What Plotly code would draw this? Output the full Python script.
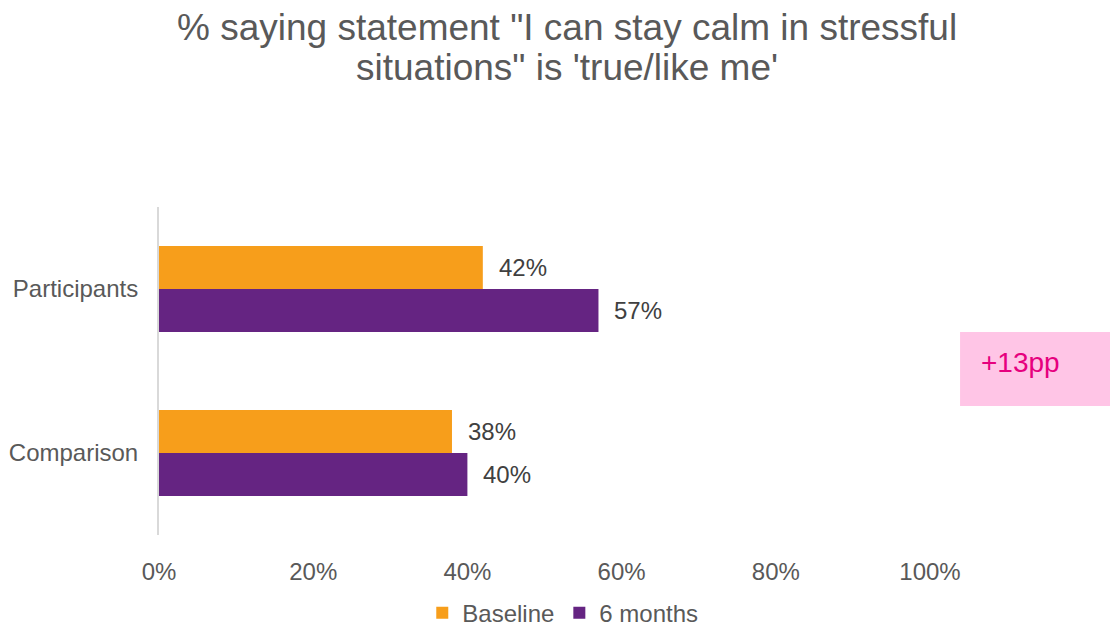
import plotly.graph_objects as go

# Survey result: share agreeing with the statement, by group and wave
groups = ["Participants", "Comparison"]
baseline = [0.42, 0.38]
six_months = [0.57, 0.40]
series_names = ["Baseline", "6 months"]
tick_vals = [0, 0.2, 0.4, 0.6, 0.8, 1.0]
tick_text = ["0%", "20%", "40%", "60%", "80%", "100%"]
title_lines = ["% saying statement \"I can stay calm in stressful",
               "situations\" is 'true/like me'"]
change_label = "+13pp"

ORANGE = "#F79E1B"
PURPLE = "#652482"
GREY_TEXT = "#595959"
FONT = "Liberation Sans, Arial, sans-serif"

fig = go.Figure()
for name, vals, col in [(series_names[0], baseline, ORANGE),
                        (series_names[1], six_months, PURPLE)]:
    fig.add_trace(go.Bar(
        y=groups, x=vals, name=name, orientation="h",
        marker=dict(color=col, line=dict(width=0)),
        hoverinfo="x+y",
    ))

# value labels placed just past the end of each bar
for trace_idx, vals in enumerate([baseline, six_months]):
    for gi, v in enumerate(vals):
        offset = -0.5 if trace_idx == 0 else 0.5
        fig.add_annotation(
            x=v, y=gi, xref="x", yref="y",
            text=f"{round(v * 100)}%", showarrow=False,
            xanchor="left", yanchor="middle", xshift=14,
            yshift=-offset * 43,
            font=dict(family=FONT, size=24, color="#404040"),
        )

# two-line heading with tight line spacing
for line, ypos in zip(title_lines, [1.546, 1.424]):
    fig.add_annotation(x=0.529, y=ypos, xref="paper", yref="paper",
                       text=line, showarrow=False,
                       xanchor="center", yanchor="middle",
                       font=dict(family=FONT, size=37, color=GREY_TEXT))

# highlighted change box
fig.add_shape(type="rect", xref="paper", yref="paper",
              x0=1.039, x1=1.235, y0=0.393, y1=0.619,
              fillcolor="#FFC5E6", line=dict(width=0), layer="below")
fig.add_annotation(x=1.063, y=0.527, xref="paper", yref="paper",
                   text=change_label, showarrow=False,
                   xanchor="left", yanchor="middle",
                   font=dict(family=FONT, size=28, color="#E6007E"))

fig.update_layout(
    width=1110, height=629,
    margin=dict(l=159, r=180, t=207, b=94, autoexpand=False),
    paper_bgcolor="white", plot_bgcolor="white",
    font=dict(family=FONT, color=GREY_TEXT),
    barmode="group", bargap=0.476, bargroupgap=0,
    showlegend=True,
    legend=dict(orientation="h", x=0.507, xref="container", xanchor="center",
                y=-0.238, yref="paper", yanchor="middle",
                font=dict(family=FONT, size=24, color=GREY_TEXT),
                itemwidth=30, traceorder="normal", itemsizing="constant"),
    xaxis=dict(range=[0, 1.0], tickvals=tick_vals, ticktext=tick_text,
               showgrid=False, zeroline=False, showline=False,
               tickfont=dict(family=FONT, size=24, color=GREY_TEXT),
               ticks="", ticklabelstandoff=20, fixedrange=True),
    yaxis=dict(autorange="reversed", showgrid=False, zeroline=False,
               showline=True, linecolor="#D9D9D9", linewidth=2,
               tickfont=dict(family=FONT, size=24, color=GREY_TEXT),
               ticks="", ticklabelstandoff=14, fixedrange=True),
)

fig.write_html("out.html")
